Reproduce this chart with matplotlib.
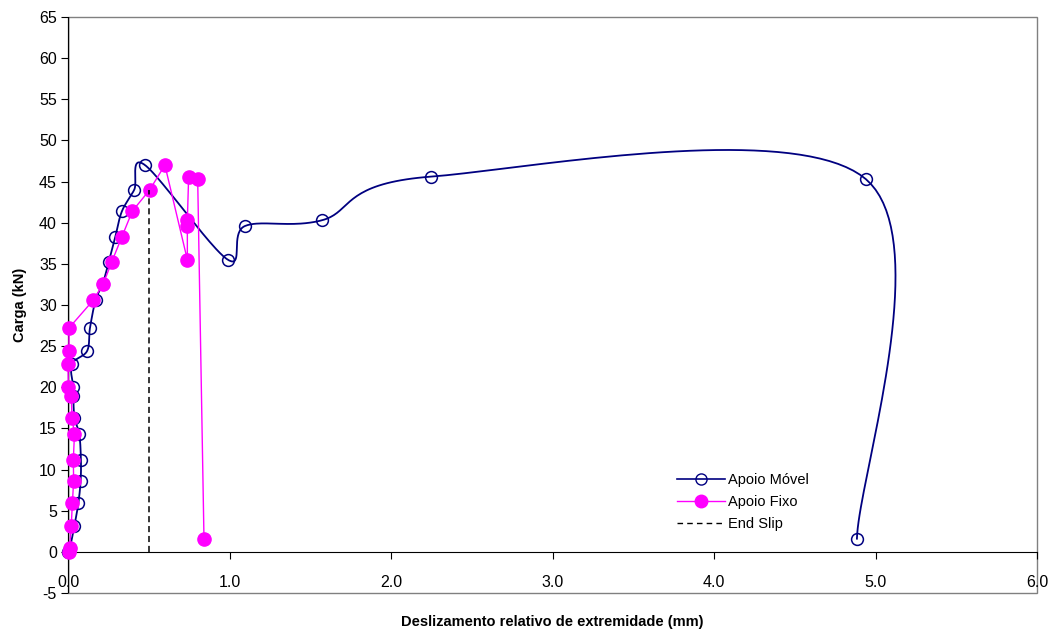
import numpy as np
import matplotlib
matplotlib.use("Agg")
import matplotlib.pyplot as plt
from matplotlib.lines import Line2D
from matplotlib.patches import Rectangle

plt.rcParams['font.family'] = ['Liberation Sans', 'DejaVu Sans']
plt.rcParams['axes.unicode_minus'] = False

# load steps (kN), shared by both supports
carga = [0.0, 0.5, 3.1, 5.9, 8.6, 11.2, 14.3, 16.3, 19.0, 20.0, 22.8, 24.4, 27.2,
         30.6, 32.6, 35.2, 38.3, 41.4, 44.0, 47.0, 35.5, 39.6, 40.3, 45.6, 45.3, 1.6]

# end slip (mm)
desl_movel = [0.0, 0.012, 0.039, 0.064, 0.078, 0.080, 0.070, 0.040, 0.033, 0.033, 0.023,
              0.118, 0.136, 0.171, 0.215, 0.252, 0.293, 0.334, 0.410, 0.477,
              0.990, 1.096, 1.573, 2.248, 4.940, 4.885]
desl_fixo = [0.008, 0.010, 0.020, 0.027, 0.035, 0.033, 0.040, 0.025, 0.020, 0.002, 0.0,
             0.006, 0.006, 0.157, 0.219, 0.270, 0.334, 0.398, 0.506, 0.600,
             0.739, 0.739, 0.739, 0.747, 0.803, 0.842]

end_slip_x = [0.5, 0.5]
end_slip_y = [0.0, 44.0]

x_max, y_min, y_max = 6.0, -5.0, 65.0


def smooth(x, y, sx, sy, n=40):
    # Bezier smoothing similar to the spreadsheet "smoothed line" (Catmull-Rom, 1/6)
    p = np.column_stack([np.asarray(x) * sx, np.asarray(y) * sy])
    out = [p[0]]
    for i in range(len(p) - 1):
        p0 = p[i - 1] if i > 0 else p[i]
        p1 = p[i]
        p2 = p[i + 1]
        p3 = p[i + 2] if i + 2 < len(p) else p[i + 1]
        c1 = p1 + (p2 - p0) / 6.0
        c2 = p2 - (p3 - p1) / 6.0
        t = np.linspace(0, 1, n)[1:, None]
        seg = ((1 - t) ** 3) * p1 + 3 * ((1 - t) ** 2) * t * c1 + 3 * (1 - t) * t ** 2 * c2 + t ** 3 * p2
        out.extend(seg)
    out = np.array(out)
    return out[:, 0] / sx, out[:, 1] / sy


fig = plt.figure(figsize=(10.53, 6.35), dpi=100)
ax = fig.add_axes([68 / 1053, 1 - 593 / 635, (1037 - 68) / 1053, (593 - 17) / 635])
ax.set_xlim(0, x_max)
ax.set_ylim(y_min, y_max)

sx = (1037 - 68) / x_max
sy = (593 - 17) / (y_max - y_min)
xs, ys = smooth(desl_movel, carga, sx, sy)

navy = '#000080'
mag = '#FF00FF'

ax.plot(xs, ys, color=navy, lw=1.3, zorder=3, clip_on=False)
ax.plot(desl_movel, carga, ls='none', marker='o', ms=8.5, mfc='none', mec=navy, mew=1.1,
        zorder=4, clip_on=False)
ax.plot(desl_fixo, carga, color=mag, lw=1.0, marker='o', ms=9.5, mfc=mag, mec=mag,
        zorder=5, clip_on=False)
ax.plot(end_slip_x, end_slip_y, color='black', lw=1.1, ls=(0, (4, 2.5)), zorder=6)

# frame
for s in ['top', 'right', 'left']:
    ax.spines[s].set_visible(False)
ax.add_patch(Rectangle((0, 0), 1, 1, transform=ax.transAxes, fill=False,
                       ec='#808080', lw=1.0, zorder=1, clip_on=False))
ax.axvline(0, color='black', lw=1.0, zorder=2)
ax.spines['bottom'].set_position(('data', 0))
ax.spines['bottom'].set_color('black')

ax.set_xticks(np.arange(0, 7, 1.0))
ax.set_xticklabels([f'{v:.1f}' for v in np.arange(0, 7, 1.0)])
ax.set_yticks(np.arange(-5, 70, 5))
ax.tick_params(axis='x', direction='out', length=5, pad=12, labelsize=11.5)
ax.tick_params(axis='y', direction='out', length=5, pad=3, labelsize=11.5)

ax.set_ylabel('Carga (kN)', fontsize=10.5, fontweight='bold', labelpad=9)
fig.text((68 + 1037) / 2 / 1053, 1 - 622 / 635, 'Deslizamento relativo de extremidade (mm)',
         ha='center', va='center', fontsize=10.5, fontweight='bold')

handles = [
    Line2D([], [], color=navy, lw=1.2, marker='o', ms=8, mfc='none', mec=navy),
    Line2D([], [], color=mag, lw=1.0, marker='o', ms=9, mfc=mag, mec=mag),
    Line2D([], [], color='black', lw=1.0, ls=(0, (4, 3))),
]
ax.legend(handles, ['Apoio Móvel', 'Apoio Fixo', 'End Slip'], loc='upper left',
          bbox_to_anchor=(664 / 1053, 1 - 460 / 635), bbox_transform=fig.transFigure,
          frameon=False, fontsize=10.5, handlelength=3.3, handletextpad=0.2, labelspacing=0.55)

fig.savefig('out.png', dpi=100)
